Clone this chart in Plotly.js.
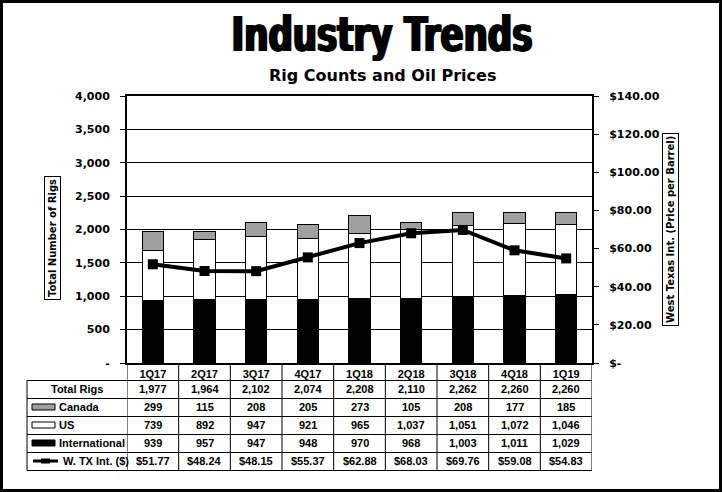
<!DOCTYPE html>
<html>
<head>
<meta charset="utf-8">
<script src="https://cdn.plot.ly/plotly-3.0.1.min.js"></script>
<style>
  body { margin: 0; background: #fff; }
  #myDiv { width: 716px; height: 486px; border: 3px solid #000; }
</style>
</head>
<body>
<div id="myDiv"></div>
<script>
var quarters = ['1Q17', '2Q17', '3Q17', '4Q17', '1Q18', '2Q18', '3Q18', '4Q18', '1Q19'];
var totalRigs = [1977, 1964, 2102, 2074, 2208, 2110, 2262, 2260, 2260];
var canada = [299, 115, 208, 205, 273, 105, 208, 177, 185];
var us = [739, 892, 947, 921, 965, 1037, 1051, 1072, 1046];
var international = [939, 957, 947, 948, 970, 968, 1003, 1011, 1029];
var wti = [51.77, 48.24, 48.15, 55.37, 62.88, 68.03, 69.76, 59.08, 54.83];

var rigTicks = [0, 500, 1000, 1500, 2000, 2500, 3000, 3500, 4000];
var priceTicks = [0, 20, 40, 60, 80, 100, 120, 140];

// picture pixel -> paper coords (plot area is 127..592 x 96..363)
function px(x) { return (x - 127) / 465; }
function py(y) { return (363 - y) / 267; }

function fmtInt(v) { return v.toLocaleString('en-US'); }
function fmtUsd(v) { return '$' + v.toFixed(2); }

var data = [
  {x: quarters, y: international, type: 'bar', name: 'International', width: 0.41,
   marker: {color: '#000', line: {color: '#000', width: 1}}},
  {x: quarters, y: us, type: 'bar', name: 'US', width: 0.41,
   marker: {color: '#fff', line: {color: '#000', width: 1}}},
  {x: quarters, y: canada, type: 'bar', name: 'Canada', width: 0.41,
   marker: {color: '#a0a0a0', line: {color: '#000', width: 1}}},
  {x: quarters, y: wti, type: 'scatter', mode: 'lines+markers', name: 'W. TX Int. ($)', yaxis: 'y2',
   line: {color: '#000', width: 4}, marker: {symbol: 'square', size: 10, color: '#000'}}
];

var numFont = {family: 'Liberation Sans', size: 11, color: '#000', weight: 'bold'};
var tickFont = {family: 'DejaVu Sans', size: 11, color: '#000', weight: 'bold'};

var annotations = [
  {text: 'Rig Counts and Oil Prices', xref: 'paper', yref: 'paper', x: px(382), y: py(75),
   xanchor: 'center', yanchor: 'middle',
   showarrow: false, font: {family: 'DejaVu Sans', size: 16, color: '#000', weight: 'bold'}},
  {text: 'Total Number of Rigs', xref: 'paper', yref: 'paper', x: px(52), y: py(238), textangle: -90,
   xanchor: 'center', yanchor: 'middle',
   showarrow: false, bordercolor: '#000', borderwidth: 1, borderpad: 2,
   font: {family: 'DejaVu Sans', size: 10, color: '#000', weight: 'bold'}},
  {text: 'West Texas Int. (Price per Barrel)', xref: 'paper', yref: 'paper', x: px(670), y: py(230), textangle: -90,
   xanchor: 'center', yanchor: 'middle',
   showarrow: false, bordercolor: '#000', borderwidth: 1, borderpad: 2,
   font: {family: 'DejaVu Sans', size: 10, color: '#000', weight: 'bold'}}
];

// table rows under the plot
var rows = [
  {label: 'Total Rigs', vals: totalRigs.map(fmtInt), y: 389, lx: 77, anchor: 'center'},
  {label: 'Canada', vals: canada.map(fmtInt), y: 407, lx: 57, anchor: 'left'},
  {label: 'US', vals: us.map(fmtInt), y: 425, lx: 57, anchor: 'left'},
  {label: 'International', vals: international.map(fmtInt), y: 443, lx: 57, anchor: 'left'},
  {label: 'W. TX Int. ($)', vals: wti.map(fmtUsd), y: 461, lx: 61, anchor: 'left'}
];

rows.forEach(function(r) {
  annotations.push({text: r.label, xref: 'paper', yref: 'paper', x: px(r.lx), y: py(r.y),
    xanchor: r.anchor, yanchor: 'middle', showarrow: false, font: numFont});
  for (var i = 0; i < quarters.length; i++) {
    annotations.push({text: r.vals[i], xref: 'x', yref: 'paper', x: quarters[i], y: py(r.y),
      xanchor: 'center', yanchor: 'middle', showarrow: false, font: numFont});
  }
});

var shapes = [];
var rowLines = [380.5, 398.5, 416.5, 434.5, 452.5, 470.5];
rowLines.forEach(function(y) {
  shapes.push({type: 'line', xref: 'paper', yref: 'paper', x0: px(27), x1: 1, y0: py(y), y1: py(y),
    line: {color: '#000', width: 1}});
});
shapes.push({type: 'line', xref: 'paper', yref: 'paper', x0: px(27), x1: px(27), y0: py(380.5), y1: py(470.5),
  line: {color: '#000', width: 1}});
for (var k = 0; k <= quarters.length; k++) {
  shapes.push({type: 'line', xref: 'x', yref: 'paper', x0: k - 0.5, x1: k - 0.5, y0: 0, y1: py(470.5),
    line: {color: '#000', width: 1}});
}
// legend keys in the label column
var keyFill = ['#a0a0a0', '#fff', '#000'];
[407, 425, 443].forEach(function(y, j) {
  shapes.push({type: 'rect', xref: 'paper', yref: 'paper', x0: px(32), x1: px(55), y0: py(y - 3), y1: py(y + 3),
    fillcolor: keyFill[j], line: {color: '#000', width: 1}});
});
shapes.push({type: 'line', xref: 'paper', yref: 'paper', x0: px(33), x1: px(58), y0: py(461), y1: py(461),
  line: {color: '#000', width: 3}});
shapes.push({type: 'rect', xref: 'paper', yref: 'paper', x0: px(41), x1: px(50), y0: py(463.5), y1: py(458.5),
  fillcolor: '#000', line: {color: '#000', width: 0}});

var layout = {
  width: 716,
  height: 486,
  margin: {l: 124, r: 127, t: 93, b: 126},
  paper_bgcolor: '#fff',
  plot_bgcolor: '#fff',
  showlegend: false,
  barmode: 'stack',
  title: {
    text: 'Industry Trends',
    xref: 'container', yref: 'container', x: 379 / 716, y: 1 - 31 / 486, yanchor: 'middle',
    font: {family: 'DejaVu Sans', size: 48, color: '#000', weight: 'bold',
           shadow: '1.5px 0 0 #000, -1.5px 0 0 #000, 0 0.5px 0 #000'}
  },
  xaxis: {
    type: 'category',
    range: [-0.5, quarters.length - 0.5],
    showline: true, mirror: true, linecolor: '#000', linewidth: 2,
    ticks: '', showgrid: false, zeroline: false,
    tickfont: numFont,
    ticklabelstandoff: 0,
    fixedrange: true
  },
  yaxis: {
    range: [0, 4000],
    tickvals: rigTicks,
    ticktext: rigTicks.map(function(v) { return v === 0 ? '-' : fmtInt(v); }),
    ticks: 'outside', ticklen: 5, tickcolor: '#000',
    ticklabelstandoff: 8,
    showgrid: true, gridcolor: '#000', gridwidth: 1, zeroline: false,
    showline: true, linecolor: '#000', linewidth: 2,
    tickfont: tickFont,
    fixedrange: true
  },
  yaxis2: {
    overlaying: 'y', side: 'right',
    range: [0, 140],
    tickvals: priceTicks,
    ticktext: priceTicks.map(function(v) { return v === 0 ? '$-' : fmtUsd(v); }),
    ticks: 'outside', ticklen: 5, tickcolor: '#000',
    ticklabelstandoff: 8,
    showgrid: false, zeroline: false,
    showline: true, linecolor: '#000', linewidth: 2,
    tickfont: tickFont,
    fixedrange: true
  },
  annotations: annotations,
  shapes: shapes
};

Plotly.newPlot('myDiv', data, layout, {displayModeBar: false, staticPlot: true}).then(function(gd) {
  // squeeze the big title horizontally so it reads like the condensed poster font
  var t = gd.querySelector('.g-gtitle text');
  if (!t) return;
  var b = t.getBBox();
  var cx = b.x + b.width / 2;
  var sx = 301 / b.width;
  t.setAttribute('transform', 'translate(' + cx + ',0) scale(' + sx + ',1) translate(' + (-cx) + ',0)');
});
</script>
</body>
</html>
